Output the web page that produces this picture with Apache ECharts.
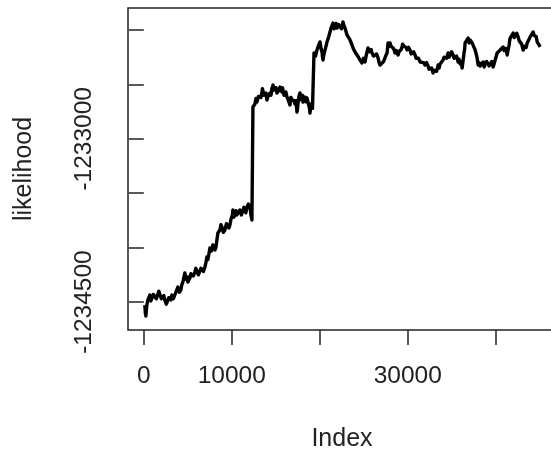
<!DOCTYPE html>
<html>
<head>
<meta charset="utf-8">
<script src="https://cdn.jsdelivr.net/npm/echarts@6/dist/echarts.min.js"></script>
<style>html,body{margin:0;padding:0;background:#fff;overflow:hidden;}#c{width:551px;height:453px;}</style>
</head>
<body>
<div id="c"></div>
<script>
var iterIndex = [
114,171,228,340,455,570,683,800,910,1080,1251,1420,1593,1700,1820,1990,2162,2280,2389,2560,2730,2840,2958,3070,3186,3360,3527,3640,3754,3810,3868,4040,4209,4320,4437,4550,4665,4780,4892,4950,5006,5120,5233,5350,5461,5630,5802,5910,6030,6200,6371,6490,6599,6770,6940,7050,7168,7280,7395,7450,7509,7680,7850,7960,8078,8190,8305,8360,8419,8530,8647,8760,8874,9040,9215,9390,9557,9670,9784,9900,10012,10070,10125,10240,10353,10470,10581,10750,10922,11090,11263,11380,11491,11600,11718,11890,12060,12120,12173,12230,12287,
12401,12510,12628,12740,12856,13030,13197,13310,13424,13480,13538,13650,13766,13880,13994,14160,14335,14450,14563,14620,14676,14790,14904,15020,15131,15300,15473,15590,15700,15760,15814,15930,16042,16150,16269,16440,16610,16720,16838,16900,16952,17070,17179,17290,17407,17460,17521,17630,17748,17860,17976,18030,18089,18200,18317,18430,18545,18660,18772,18830,18886,19000,19113,19170,19227,
19341,19510,19682,19740,19796,19910,20024,20140,20251,20310,20365,20480,20592,20700,20820,20990,21161,21220,21275,21390,21502,21620,21729,21840,21957,22130,22298,22470,22640,22750,22868,22980,23095,23270,23437,23550,23665,23720,23778,23890,24006,24120,24234,24400,24574,24690,24802,24970,25143,25310,25486,25600,25713,25830,25941,26110,26282,26450,26623,26740,26851,26960,27074,27250,27418,27530,27649,27700,27760,27870,27987,28100,28216,28390,28556,28730,28897,29010,29124,29240,29352,29410,29463,29580,29693,29810,29921,30090,30260,30380,30490,30660,30832,30950,31060,31230,31398,31510,31624,31800,31969,32140,32310,32420,32537,32710,32880,32990,33108,33280,33447,33560,33675,33850,34017,34130,34245,34410,34584,34700,34812,34980,35155,35270,35383,35550,35724,35840,35951,36060,36178,36290,36405,36460,36520,36690,36860,36970,37089,37200,37318,37490,37658,37770,37886,37940,38000,38110,38227,38400,38568,38680,38796,38970,39138,39250,39366,39540,39706,39820,39933,40050,40161,40330,40502,40670,40843,40960,41071,41180,41299,41410,41526,41580,41640,41810,41981,42100,42210,42380,42550,42670,42780,42950,43118,43230,43346,43460,43574,43740,43915,44090,44256,44370,44484,44600,44712,44880,45053];
var likelihood = [
-1234528,-1234600,-1234629,-1234530,-1234482,-1234490,-1234436,-1234490,-1234500,-1234430,-1234417,-1234470,-1234454,-1234400,-1234417,-1234470,-1234463,-1234440,-1234482,-1234520,-1234509,-1234460,-1234463,-1234480,-1234436,-1234470,-1234454,-1234410,-1234408,-1234400,-1234362,-1234410,-1234390,-1234340,-1234316,-1234300,-1234233,-1234290,-1234298,-1234270,-1234316,-1234310,-1234279,-1234240,-1234253,-1234260,-1234224,-1234190,-1234206,-1234250,-1234233,-1234190,-1234206,-1234220,-1234178,-1234140,-1234086,-1234110,-1234059,-1234050,-1234004,-1234030,-1233976,-1233960,-1234022,-1234000,-1233930,-1233900,-1233866,-1233880,-1233838,-1233790,-1233811,-1233860,-1233838,-1233780,-1233774,-1233820,-1233792,-1233740,-1233746,-1233700,-1233654,-1233720,-1233691,-1233660,-1233700,-1233690,-1233654,-1233700,-1233682,-1233630,-1233654,-1233680,-1233627,-1233600,-1233636,-1233660,-1233700,-1233690,-1233746,
-1232708,-1232720,-1232680,-1232630,-1232662,-1232610,-1232597,-1232620,-1232570,-1232540,-1232551,-1232600,-1232607,-1232580,-1232643,-1232600,-1232579,-1232600,-1232533,-1232560,-1232506,-1232500,-1232551,-1232530,-1232579,-1232560,-1232524,-1232540,-1232570,-1232530,-1232551,-1232600,-1232588,-1232570,-1232616,-1232650,-1232689,-1232620,-1232643,-1232660,-1232625,-1232650,-1232680,-1232650,-1232754,-1232730,-1232680,-1232610,-1232579,-1232640,-1232625,-1232600,-1232662,-1232640,-1232616,-1232660,-1232625,-1232640,-1232699,-1232720,-1232763,-1232680,-1232671,-1232720,-1232708,
-1232211,-1232240,-1232184,-1232200,-1232156,-1232150,-1232110,-1232170,-1232202,-1232250,-1232276,-1232220,-1232184,-1232150,-1232110,-1232070,-1232018,-1232000,-1231982,-1231990,-1231936,-1231990,-1231972,-1231940,-1231982,-1231950,-1231954,-1231990,-1231926,-1231960,-1231982,-1232000,-1232046,-1232030,-1232092,-1232110,-1232138,-1232130,-1232165,-1232160,-1232202,-1232190,-1232230,-1232250,-1232276,-1232260,-1232303,-1232260,-1232294,-1232220,-1232165,-1232200,-1232202,-1232180,-1232211,-1232240,-1232248,-1232220,-1232257,-1232300,-1232322,-1232310,-1232340,-1232290,-1232276,-1232230,-1232211,-1232170,-1232119,-1232150,-1232119,-1232150,-1232165,-1232170,-1232211,-1232190,-1232230,-1232200,-1232184,-1232180,-1232156,-1232130,-1232119,-1232150,-1232138,-1232160,-1232184,-1232160,-1232184,-1232220,-1232211,-1232200,-1232230,-1232260,-1232248,-1232260,-1232294,-1232280,-1232303,-1232300,-1232322,-1232300,-1232331,-1232360,-1232349,-1232350,-1232395,-1232370,-1232358,-1232380,-1232322,-1232350,-1232312,-1232320,-1232276,-1232250,-1232248,-1232260,-1232211,-1232250,-1232239,-1232200,-1232230,-1232260,-1232257,-1232240,-1232294,-1232270,-1232312,-1232290,-1232349,-1232280,-1232202,-1232180,-1232119,-1232110,-1232074,-1232120,-1232092,-1232080,-1232119,-1232130,-1232184,-1232200,-1232257,-1232290,-1232322,-1232300,-1232331,-1232320,-1232294,-1232340,-1232312,-1232290,-1232294,-1232330,-1232312,-1232290,-1232340,-1232310,-1232276,-1232260,-1232211,-1232220,-1232184,-1232200,-1232156,-1232190,-1232184,-1232170,-1232230,-1232180,-1232138,-1232100,-1232074,-1232080,-1232028,-1232070,-1232055,-1232030,-1232064,-1232100,-1232110,-1232130,-1232184,-1232150,-1232156,-1232160,-1232119,-1232110,-1232064,-1232060,-1232018,-1232050,-1232064,-1232060,-1232110,-1232120,-1232156];
var xTicks = [0,10000,20000,30000,40000];
var xLabels = [0,10000,30000];
var yTicks = [-1234500,-1234000,-1233500,-1233000,-1232500,-1232000];
var yLabels = [-1234500,-1233000];

var seriesData = iterIndex.map(function(v,i){return [v, likelihood[i]];});
var font = '"Liberation Sans", Arial, Helvetica, sans-serif';
var plain = function(v){ return String(v); };
var chart = echarts.init(document.getElementById('c'));
chart.setOption({
  animation: false,
  backgroundColor: '#fff',
  grid: {left:128, top:8, width:428, height:322, show:true, borderColor:'#222', borderWidth:1.5, outerBoundsMode:'none', containLabel:false},
  xAxis: {
    type:'value', min:-1800, max:46850,
    name:'Index', nameLocation:'middle', nameGap:97,
    nameTextStyle:{fontSize:25, color:'#222', fontFamily:font},
    axisLine:{show:false},
    splitLine:{show:false},
    axisTick:{show:true, length:15, customValues:xTicks, lineStyle:{color:'#222', width:1.5}},
    axisLabel:{customValues:xLabels, formatter:plain, margin:34, fontSize:24.5, color:'#222', fontFamily:font}
  },
  yAxis: {
    type:'value', min:-1234757, max:-1231798,
    name:'likelihood', nameLocation:'middle', nameGap:91,
    nameTextStyle:{fontSize:25, color:'#222', fontFamily:font},
    axisLine:{show:false},
    splitLine:{show:false},
    axisTick:{show:true, length:15, customValues:yTicks, lineStyle:{color:'#222', width:1.5}},
    axisLabel:{customValues:yLabels, formatter:plain, rotate:90, margin:31, fontSize:24.5, color:'#222', fontFamily:font}
  },
  series: [{
    type:'line', data:seriesData, showSymbol:false,
    lineStyle:{color:'#000', width:3.4, join:'round'}
  }]
});
</script>
</body>
</html>
